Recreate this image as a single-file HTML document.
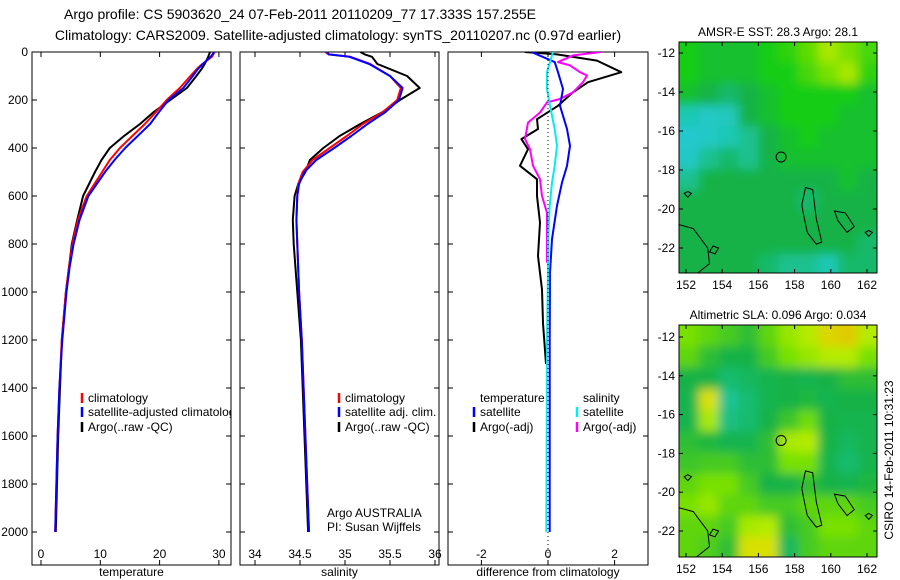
<!DOCTYPE html>
<html><head><meta charset="utf-8"><style>
body{margin:0;background:#fff}
svg{display:block;font-family:"Liberation Sans",sans-serif}
</style></head><body>
<svg id="c" width="900" height="580" xmlns="http://www.w3.org/2000/svg">
<text x="300" y="19" font-size="14" text-anchor="middle">Argo profile: CS 5903620_24 07-Feb-2011 20110209_77 17.333S 157.255E</text>
<text x="338" y="40" font-size="14" text-anchor="middle">Climatology: CARS2009. Satellite-adjusted climatology: synTS_20110207.nc (0.97d earlier)</text>
<text transform="translate(893,460) rotate(-90)" font-size="12" text-anchor="middle">CSIRO 14-Feb-2011 10:31:23</text>
<defs><filter id="blur" x="-5%" y="-5%" width="110%" height="110%"><feGaussianBlur stdDeviation="5"/></filter></defs>
</svg>
<script>
// ---------- data ----------
const depthTicks=[0,200,400,600,800,1000,1200,1400,1600,1800,2000];
const tempTicks=[0,10,20,30];
const salTicks=[34,34.5,35,35.5,36];
const diffTicks=[-2,0,2];
const tDepth=[0,20,50,70,100,150,200,250,300,350,400,450,500,600,700,800,900,1000,1200,1400,1600,1800,2000];
const tempClim=[29.3,28.8,27.2,26.3,25.2,23.4,21.2,19.4,17.5,15.4,13.3,11.6,10.3,7.7,6.2,5.3,4.7,4.2,3.5,3.1,2.8,2.6,2.4];
const tempSat=[29.2,28.6,27.3,26.5,25.6,24.0,21.5,19.9,18.4,16.3,14.2,12.4,10.8,8.0,6.5,5.5,4.8,4.3,3.6,3.1,2.8,2.6,2.4];
const tempArgo=[28.5,28.2,27.6,27.1,26.2,24.6,21.8,19.0,16.7,14.0,11.6,10.2,9.1,7.1,6.1,5.2,4.7,4.2,3.5,3.2,2.9,2.7,2.5];
const sDepth=[0,10,20,50,100,150,200,250,300,350,400,450,500,550,600,700,800,1000,1200,1400,1600,1800,2000];
const salClim=[34.78,34.82,35.06,35.28,35.5,35.62,35.58,35.42,35.2,35.02,34.83,34.64,34.53,34.48,34.47,34.46,34.47,34.49,34.52,34.54,34.56,34.58,34.6];
const salSat=[34.8,34.82,35.05,35.27,35.5,35.64,35.6,35.45,35.25,35.07,34.88,34.68,34.55,34.49,34.47,34.46,34.47,34.49,34.52,34.54,34.56,34.58,34.6];
const salArgo=[35.17,35.22,35.3,35.36,35.69,35.83,35.61,35.42,35.17,34.94,34.76,34.61,34.56,34.48,34.44,34.42,34.43,34.47,34.51,34.53,34.55,34.57,34.59];
const dDepthT=[0,10,36,84,126,168,224,280,321,363,405,474,530,600,711,850,990,1130,1300];
const dTempArgo=[-0.7,0.27,1.47,2.2,1.2,0.75,0.3,-0.33,-0.3,-0.8,-0.6,-0.84,-0.33,-0.33,-0.24,-0.3,-0.18,-0.15,-0.06];
const dDepthS=[0,14,42,56,84,98,126,168,196,210,252,294,363,405,474,530,600,670,878];
const dSalArgo=[1.6,0.75,0.3,0.66,0.96,1.17,1.05,0.75,0.36,-0.03,-0.24,-0.6,-0.69,-0.54,-0.45,-0.24,-0.18,-0.03,-0.03];
const dSatDepth=[0,42,84,154,224,321,391,474,544,641,780,920,1200,1600,2000];
const dTempSat=[-0.5,0.2,0.3,0.45,0.36,0.57,0.66,0.57,0.42,0.27,0.12,0.06,0.05,0.05,0.05];
const dSalSat=[0.15,0.06,-0.03,-0.03,0.06,0.2,0.27,0.2,0.12,0.05,0.0,0.0,-0.03,-0.04,-0.05];
const lonTicks=[152,154,156,158,160,162];
const latTicks=[-12,-14,-16,-18,-20,-22];
const sstGrid=[
[0.55,0.5,0.5,0.5,0.55,0.6,0.7,0.85,0.75,0.65],
[0.55,0.5,0.5,0.5,0.55,0.55,0.65,0.75,0.85,0.6],
[0.5,0.45,0.4,0.45,0.5,0.55,0.55,0.55,0.55,0.5],
[0.3,0.2,0.25,0.45,0.5,0.55,0.55,0.55,0.5,0.5],
[0.15,0.2,0.3,0.35,0.45,0.5,0.55,0.5,0.5,0.5],
[0.2,0.35,0.4,0.35,0.45,0.5,0.5,0.5,0.5,0.5],
[0.35,0.45,0.45,0.45,0.45,0.45,0.45,0.45,0.5,0.45],
[0.45,0.45,0.45,0.45,0.45,0.45,0.4,0.45,0.45,0.45],
[0.45,0.45,0.45,0.45,0.45,0.45,0.45,0.45,0.45,0.45],
[0.45,0.45,0.45,0.45,0.45,0.45,0.45,0.45,0.45,0.4],
[0.45,0.45,0.45,0.45,0.4,0.35,0.35,0.3,0.4,0.4]];
const slaGrid=[
[0.7,0.65,0.6,0.55,0.65,0.75,0.8,0.9,0.92,0.8],
[0.65,0.55,0.5,0.5,0.6,0.7,0.75,0.8,0.8,0.7],
[0.5,0.5,0.42,0.45,0.48,0.5,0.48,0.5,0.55,0.55],
[0.48,0.88,0.35,0.42,0.48,0.5,0.52,0.48,0.5,0.5],
[0.48,0.78,0.38,0.42,0.5,0.58,0.68,0.5,0.48,0.48],
[0.55,0.52,0.48,0.48,0.55,0.78,0.8,0.5,0.45,0.48],
[0.58,0.6,0.6,0.55,0.55,0.7,0.7,0.48,0.42,0.48],
[0.65,0.7,0.7,0.6,0.5,0.5,0.55,0.5,0.48,0.52],
[0.7,0.75,0.65,0.65,0.6,0.6,0.65,0.65,0.65,0.6],
[0.65,0.65,0.6,0.78,0.8,0.55,0.6,0.7,0.7,0.65],
[0.65,0.62,0.55,0.88,0.88,0.45,0.6,0.65,0.65,0.65]];
// ---------- helpers ----------
const NS="http://www.w3.org/2000/svg", svg=document.getElementById('c');
function mk(tag,attrs,parent){const e=document.createElementNS(NS,tag);for(const k in attrs)e.setAttribute(k,attrs[k]);(parent||svg).appendChild(e);return e;}
function txt(x,y,s,size,anchor,parent){const t=mk('text',{x:x,y:y,'font-size':size||12,'text-anchor':anchor||'middle'},parent);t.textContent=s;return t;}
const Y0=52,Y1=532,FT=52,FB=565;
const yD=d=>Y0+(Y1-Y0)*d/2000;
function panel(name,x0,x1,xs,ticks,label,leftLabels){
  const r=mk('rect',{x:x0,y:FT,width:x1-x0,height:FB-FT,fill:'none',stroke:'#000','stroke-width':1});
  
  
  ticks.forEach(v=>{const x=xs(v);
    mk('line',{x1:x,y1:FT,x2:x,y2:FT+5,stroke:'#000'});mk('line',{x1:x,y1:FB,x2:x,y2:FB-5,stroke:'#000'});
    const t=txt(x,558,String(v),12);
    
    });
  depthTicks.forEach(d=>{const y=yD(d);
    mk('line',{x1:x0,y1:y,x2:x0+5,y2:y,stroke:'#000'});mk('line',{x1:x1,y1:y,x2:x1-5,y2:y,stroke:'#000'});
    if(leftLabels){const t=txt(x0-4,y+4,String(d),12,'end');
      
      }});
  const l=txt((x0+x1)/2,576,label,12);
  
  
  const cp=mk('clipPath',{id:'clip-'+name});mk('rect',{x:x0,y:FT,width:x1-x0,height:FB-FT},cp);
  return mk('g',{'clip-path':'url(#clip-'+name+')'});
}
function line(depths,vals,xs,color,w,name,g){
  const p=depths.map((d,i)=>(i?'L':'M')+xs(vals[i]).toFixed(1)+','+yD(d).toFixed(1)).join('');
  const e=mk('path',{d:p,fill:'none',stroke:color,'stroke-width':w,'stroke-linejoin':'round'},g);
  
  
}
function legend(x,y,color,label,name,g){
  mk('line',{x1:x,y1:y-9,x2:x,y2:y+1,stroke:color,'stroke-width':2.5},g);
  const t=txt(x+6,y,label,12,'start',g);
  
  
}
// ---------- panel 1: temperature ----------
const xT=v=>41+v*5.93;
const g1=panel('temperature',32,231,xT,tempTicks,'temperature',true);
line(tDepth,tempArgo,xT,'#000',2,'temp-argo-line',g1);
line(tDepth,tempClim,xT,'#f00',2,'temp-climatology-line',g1);
line(tDepth,tempSat,xT,'#00f',2,'temp-satellite-line',g1);
legend(82,402,'#f00','climatology','legend-climatology',g1);
legend(82,416,'#00f','satellite-adjusted climatology','legend-satellite-adjusted',g1);
legend(82,431,'#000','Argo(..raw -QC)','legend-argo',g1);
// ---------- panel 2: salinity ----------
const xS=v=>255+(v-34)*90;
const g2=panel('salinity',240,439,xS,salTicks,'salinity',false);
line(sDepth,salArgo,xS,'#000',2,'sal-argo-line',g2);
line(sDepth,salClim,xS,'#f00',2,'sal-climatology-line',g2);
line(sDepth,salSat,xS,'#00f',2,'sal-satellite-line',g2);
legend(339,402,'#f00','climatology','legend-sal-climatology',g2);
legend(339,416,'#00f','satellite adj. clim.','legend-sal-satellite',g2);
legend(339,431,'#000','Argo(..raw -QC)','legend-sal-argo',g2);
{const a=txt(327,517,'Argo AUSTRALIA',12,'start');
 const b=txt(327,531,'PI: Susan Wijffels',12,'start');}
// ---------- panel 3: differences ----------
const xDf=v=>548+v*33.3;
const g3=panel('difference',448,648,xDf,diffTicks,'difference from climatology',false);
mk('line',{x1:xDf(0),y1:FT,x2:xDf(0),y2:FB,stroke:'#000','stroke-dasharray':'1,3'});
line(dDepthT,dTempArgo,xDf,'#000',2,'diff-temp-argo-line',g3);
line(dDepthS,dSalArgo,xDf,'#f0f',2,'diff-sal-argo-line',g3);
line(dSatDepth,dTempSat,xDf,'#00f',2,'diff-temp-satellite-line',g3);
line(dSatDepth,dSalSat,xDf,'#0ee',2,'diff-sal-satellite-line',g3);
{const a=txt(480,402,'temperature',12,'start');
 const b=txt(583,402,'salinity',12,'start');}
legend(474,416,'#00f','satellite','legend-diff-temp-satellite');
legend(474,431,'#000','Argo(-adj)','legend-diff-temp-argo');
legend(577,416,'#0ee','satellite','legend-diff-sal-satellite');
legend(577,431,'#f0f','Argo(-adj)','legend-diff-sal-argo');
// ---------- maps ----------
function lerp(a,b,t){return a.map((v,i)=>Math.round(v+(b[i]-v)*t));}
function cmap(stops,v){if(v<=stops[0][0])return 'rgb('+stops[0][1].join(',')+')';for(let i=1;i<stops.length;i++){if(v<=stops[i][0]){const t=(v-stops[i-1][0])/(stops[i][0]-stops[i-1][0]);return 'rgb('+lerp(stops[i-1][1],stops[i][1],t).join(',')+')';}}return 'rgb('+stops[stops.length-1][1].join(',')+')';}
const sstStops=[[0,[40,200,230]],[0.3,[30,200,180]],[0.45,[20,178,70]],[0.55,[20,205,20]],[0.75,[120,225,0]],[1,[240,240,0]]];
const slaStops=[[0.3,[30,200,170]],[0.5,[20,178,70]],[0.7,[120,225,0]],[0.85,[210,240,0]],[1,[240,160,0]]];
function map(name,y0,y1,latY12,latY22,grid,stops,title){
  const x0=679,x1=877;
  const lonX=l=>686+(l-152)*18.1;
  const latY=l=>latY12+(-12-l)*(latY22-latY12)/10;
  const cid='clip'+name;
  const cp=mk('clipPath',{id:cid});mk('rect',{x:x0,y:y0,width:x1-x0,height:y1-y0},cp);
  const outer=mk('g',{'clip-path':'url(#'+cid+')'});
  const g=mk('g',{filter:'url(#blur)'},outer);
  
  
  const nr=grid.length,nc=grid[0].length;
  const lonMin=151.6,lonMax=162.6,latMax=-11.4,latMin=-23.4;
  for(let r=0;r<nr;r++)for(let c=0;c<nc;c++){
    let xa=lonX(lonMin+(lonMax-lonMin)*c/nc),xb=lonX(lonMin+(lonMax-lonMin)*(c+1)/nc);
    let ya=latY(latMax-(latMax-latMin)*r/nr),yb=latY(latMax-(latMax-latMin)*(r+1)/nr);
    if(c===0)xa-=15; if(c===nc-1)xb+=15; if(r===0)ya-=15; if(r===nr-1)yb+=15;
    const cell=mk('rect',{x:xa,y:ya,width:xb-xa+0.5,height:yb-ya+0.5,fill:cmap(stops,grid[r][c])},g);
    
    
  }
  const P=pts=>pts.map((p,i)=>(i?'L':'M')+lonX(p[0]).toFixed(1)+','+latY(p[1]).toFixed(1)).join('')+'Z';
  const coasts=[
    [[158.4,-19.8],[158.6,-18.9],[159.0,-19.0],[159.2,-20.5],[159.5,-21.7],[159.2,-21.8],[158.7,-21.2],[158.5,-20.3]],
    [[160.2,-20.1],[160.8,-20.2],[161.3,-20.9],[160.9,-21.2],[160.4,-20.6]],
    [[151.6,-20.8],[152.4,-21.0],[153.2,-22.0],[153.3,-22.8],[152.5,-23.4],[151.6,-23.4]],
    [[153.5,-21.9],[153.8,-22.0],[153.6,-22.3],[153.3,-22.2]],
    [[162.1,-21.1],[162.3,-21.2],[162.1,-21.4],[161.9,-21.2]],
    [[152.1,-19.1],[152.3,-19.2],[152.1,-19.4],[151.9,-19.2]]];
  coasts.forEach(c=>{const e=mk('path',{d:P(c),fill:'none',stroke:'#000','stroke-width':1},outer);
    
    });
  const circ=mk('circle',{cx:lonX(157.255),cy:latY(-17.333),r:5,fill:'none',stroke:'#000','stroke-width':1},outer);
  
  
  const fr=mk('rect',{x:x0,y:y0,width:x1-x0,height:y1-y0,fill:'none',stroke:'#000'});
  
  
  lonTicks.forEach(l=>{const x=lonX(l);mk('line',{x1:x,y1:y0,x2:x,y2:y0+4,stroke:'#000'});mk('line',{x1:x,y1:y1,x2:x,y2:y1-4,stroke:'#000'});
    const t=txt(x,y1+16,String(l),12);});
  latTicks.forEach(l=>{const y=latY(l);mk('line',{x1:x0,y1:y,x2:x0+4,y2:y,stroke:'#000'});mk('line',{x1:x1,y1:y,x2:x1-4,y2:y,stroke:'#000'});
    const t=txt(x0-4,y+4,String(l),12,'end');});
  const tt=txt(778,y0-6,title,12);
  
  
}
map('sst-map',42,273,53,248,sstGrid,sstStops,'AMSR-E SST: 28.3 Argo: 28.1');
map('sla-map',325,557,337,531,slaGrid,slaStops,'Altimetric SLA: 0.096 Argo: 0.034');
</script>
</body></html>
